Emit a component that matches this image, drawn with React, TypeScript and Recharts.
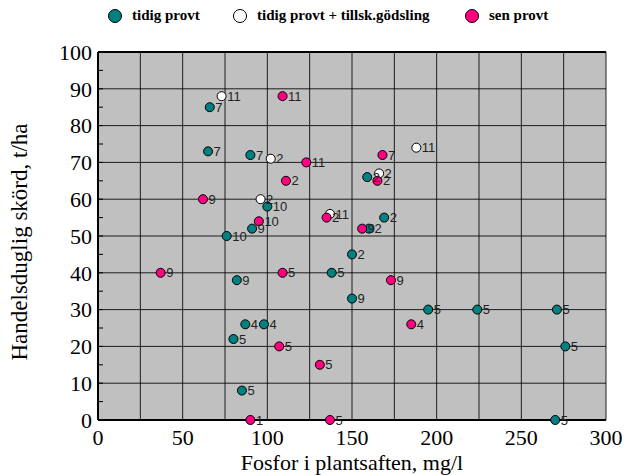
import React from "react";
import {
  CartesianGrid, LabelList, Legend, ReferenceLine, Scatter, ScatterChart,
  XAxis, YAxis, ZAxis,
} from "recharts";

// x = fosfor (mg/l), y = skörd (t/ha), n = försöksnummer
const tidigProvt = [
  { x: 66, y: 85, n: 7 }, { x: 65, y: 73, n: 7 }, { x: 90, y: 72, n: 7 },
  { x: 159, y: 66, n: 2 }, { x: 100, y: 58, n: 10 }, { x: 91, y: 52, n: 9 },
  { x: 76, y: 50, n: 10 }, { x: 169, y: 55, n: 2 }, { x: 160, y: 52, n: 2 },
  { x: 150, y: 45, n: 2 }, { x: 138, y: 40, n: 5 }, { x: 82, y: 38, n: 9 },
  { x: 150, y: 33, n: 9 }, { x: 195, y: 30, n: 5 }, { x: 224, y: 30, n: 5 },
  { x: 271, y: 30, n: 5 }, { x: 276, y: 20, n: 5 }, { x: 87, y: 26, n: 4 },
  { x: 98, y: 26, n: 4 }, { x: 80, y: 22, n: 5 }, { x: 85, y: 8, n: 5 },
  { x: 270, y: 0, n: 5 },
];
const tidigTillsk = [
  { x: 73, y: 88, n: 11 }, { x: 102, y: 71, n: 2 }, { x: 96, y: 60, n: 2 },
  { x: 188, y: 74, n: 11 }, { x: 137, y: 56, n: 11 }, { x: 166, y: 67, n: 2 },
];
const senProvt = [
  { x: 109, y: 88, n: 11 }, { x: 123, y: 70, n: 11 }, { x: 111, y: 65, n: 2 },
  { x: 62, y: 60, n: 9 }, { x: 95, y: 54, n: 10 }, { x: 135, y: 55, n: 2 },
  { x: 168, y: 72, n: 7 }, { x: 165, y: 65, n: 2 }, { x: 156, y: 52, n: 9 },
  { x: 37, y: 40, n: 9 }, { x: 109, y: 40, n: 5 }, { x: 107, y: 20, n: 5 },
  { x: 173, y: 38, n: 9 }, { x: 185, y: 26, n: 4 }, { x: 131, y: 15, n: 5 },
  { x: 137, y: 0, n: 5 }, { x: 90, y: 0, n: 1 },
];
const xTicks = [0, 25, 50, 75, 100, 125, 150, 175, 200, 225, 250, 275, 300];
const yTicks = [0, 5, 10, 15, 20, 25, 30, 35, 40, 45, 50, 55, 60, 65, 70, 75, 80, 85, 90, 95, 100];
const yGrid = [10, 20, 30, 40, 50, 60, 70, 80, 90];

const SERIF = "'Liberation Serif', 'Times New Roman', Times, serif";
const SANS = "'Liberation Sans', Arial, sans-serif";
const PLOT_LEFT = 98;
const PLOT_RIGHT = 606;

const series = [
  { name: "tidig provt", data: tidigProvt, fill: "#008080" },
  { name: "tidig provt + tillsk.gödsling", data: tidigTillsk, fill: "#ffffff" },
  { name: "sen provt", data: senProvt, fill: "#ff0080" },
];
const legendLefts = [107, 232, 464];

const XTick = ({ x, y, payload }: any) =>
  payload.value % 50 === 0 ? (
    <text x={x} y={y} dy="0.78em" textAnchor="middle" style={{ fontFamily: SERIF, fontSize: 22 }} fill="#000">
      {payload.value}
    </text>
  ) : <g />;

const YTickLeft = ({ x, y, payload }: any) => (
  <g>
    <line x1={PLOT_LEFT} x2={PLOT_LEFT + 5} y1={y} y2={y} stroke="#000" />
    {payload.value % 10 === 0 && (
      <text x={x + 2} y={y} dy="0.35em" textAnchor="end" style={{ fontFamily: SERIF, fontSize: 22 }} fill="#000">
        {payload.value}
      </text>
    )}
  </g>
);

const YTickRight = ({ y }: any) => (
  <line x1={PLOT_RIGHT - 5} x2={PLOT_RIGHT} y1={y} y2={y} stroke="#000" />
);

const LegendBox = () => (
  <div style={{ position: "relative", height: 20 }}>
    {series.map((s, i) => (
      <div key={s.name} style={{ position: "absolute", left: legendLefts[i], top: 0, display: "flex", alignItems: "center", whiteSpace: "nowrap" }}>
        <svg width={16} height={16}>
          <circle cx={8} cy={8} r={6.5} fill={s.fill} stroke="#000" />
        </svg>
        <span style={{ marginLeft: 9, fontFamily: SERIF, fontWeight: "bold", fontSize: 15, color: "#000" }}>
          {s.name}
        </span>
      </div>
    ))}
  </div>
);

const XTitle = () => (
  <text x={352} y={470} textAnchor="middle" style={{ fontFamily: SERIF, fontSize: 22 }} fill="#000">
    Fosfor i plantsaften, mg/l
  </text>
);

const YTitle = () => (
  <text x={0} y={0} transform="translate(27, 242) rotate(-90)" textAnchor="middle" style={{ fontFamily: SERIF, fontSize: 23 }} fill="#000">
    Handelsduglig skörd, t/ha
  </text>
);

export default function App() {
  return (
    <div style={{ position: "absolute", left: 0, top: 0, background: "#fff" }}>
      <ScatterChart width={625} height={475} margin={{ top: 32, right: 19, bottom: 0, left: 0 }}>
        <CartesianGrid horizontal={false} stroke="#000" strokeOpacity={0.85} fill="#c0c0c0" fillOpacity={1} />
        <XAxis
          type="number" dataKey="x" domain={[0, 300]} ticks={xTicks} interval={0}
          height={55} tick={<XTick />} tickLine={false}
          axisLine={{ stroke: "#000", strokeWidth: 2 }}
          label={<XTitle />}
        />
        <YAxis
          type="number" dataKey="y" domain={[0, 100]} ticks={yTicks} interval={0}
          width={98} tick={<YTickLeft />} tickLine={false}
          axisLine={{ stroke: "#000", strokeWidth: 2 }}
          label={<YTitle />}
        />
        <YAxis
          yAxisId="r" orientation="right" type="number" domain={[0, 100]} ticks={yTicks} interval={0}
          width={0} tick={<YTickRight />} tickLine={false}
          axisLine={{ stroke: "#000", strokeWidth: 2 }}
        />
        <ZAxis range={[133, 133]} />
        {yGrid.map((v) => (
          <ReferenceLine key={v} y={v} stroke="#000" strokeOpacity={0.85} />
        ))}
        <ReferenceLine y={100} stroke="#000" strokeWidth={2} />
        <Legend verticalAlign="top" align="left" content={<LegendBox />}
          wrapperStyle={{ position: "absolute", top: 7, left: 0, width: 625 }} />
        {series.map((s) => (
          <Scatter key={s.name} name={s.name} data={s.data} fill={s.fill} stroke="#000" strokeWidth={1}
            isAnimationActive={false}>
            <LabelList dataKey="n" position="right" offset={1} fontFamily={SANS} fontSize={13} fill="#222" />
          </Scatter>
        ))}
      </ScatterChart>
    </div>
  );
}
